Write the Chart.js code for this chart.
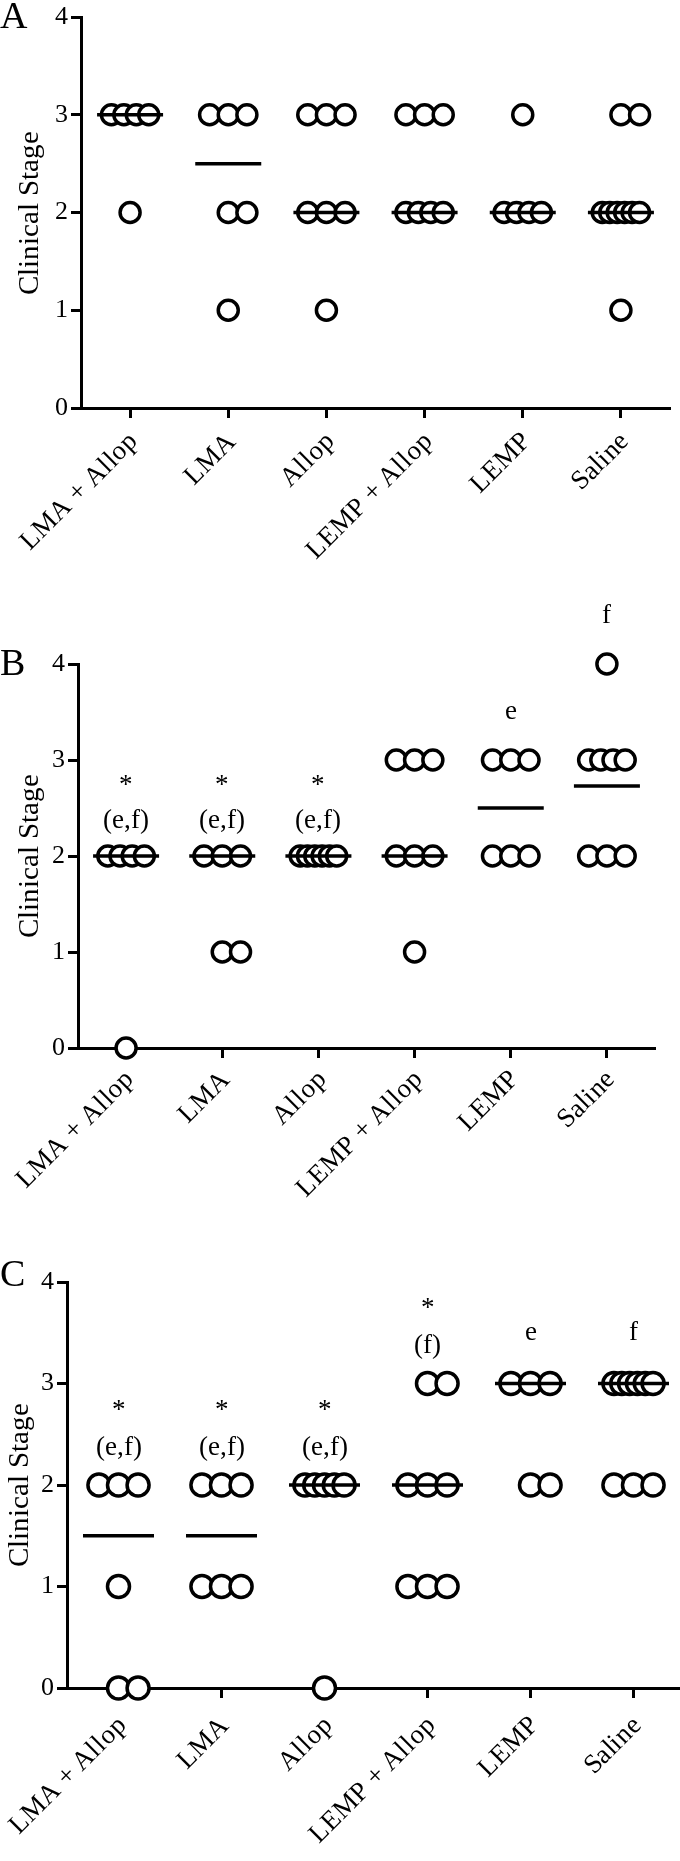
<!DOCTYPE html>
<html><head><meta charset="utf-8">
<script src="https://cdn.jsdelivr.net/npm/chart.js@4.4.0/dist/chart.umd.min.js"></script>
<style>
@font-face{font-family:"RefSerif";src:local("Liberation Serif"),local("LiberationSerif"),local("LiberationSerif-Regular"),local("Times New Roman");}
html,body{margin:0;padding:0;background:#fff;width:680px;height:1861px;overflow:hidden;position:relative}
.panel{position:absolute;left:0}
.letter{position:absolute;left:0;font-family:RefSerif,"Liberation Serif","Times New Roman",serif;font-size:38px;line-height:38px;color:#000}
canvas{display:block}
</style></head><body>
<div class="panel" style="top:0"><canvas id="cA" width="680" height="600"></canvas></div>
<div class="panel" style="top:600px"><canvas id="cB" width="680" height="630"></canvas></div>
<div class="panel" style="top:1230px"><canvas id="cC" width="690" height="631"></canvas></div>
<div class="letter" style="top:-4px">A</div>
<div class="letter" style="top:643px">B</div>
<div class="letter" style="top:1254px">C</div>
<script>
const categories = ['LMA + Allop', 'LMA', 'Allop', 'LEMP + Allop', 'LEMP', 'Saline'];
const yTicks = [0, 1, 2, 3, 4];
const yTitle = 'Clinical Stage';

// Panel A: clinical stage of each animal per group
const scoresA = [[3,3,3,3,2], [3,3,3,2,2,1], [3,3,3,2,2,2,1], [3,3,3,2,2,2,2], [3,2,2,2,2], [3,3,2,2,2,2,2,2,1]];
const lineA = [3, 2.5, 2, 2, 2, 2];
const notesA = [[], [], [], [], [], []];

// Panel B
const scoresB = [[2,2,2,2,0], [2,2,2,1,1], [2,2,2,2,2,2], [3,3,3,2,2,2,1], [3,3,3,2,2,2], [4,3,3,3,3,2,2,2]];
const lineB = [2, 2, 2, 2, 2.5, 2.73];
const notesB = [['*','(e,f)'], ['*','(e,f)'], ['*','(e,f)'], [], ['e'], ['f']];

// Panel C
const scoresC = [[2,2,2,1,0,0], [2,2,2,1,1,1], [2,2,2,2,2,0], [3,3,2,2,2,1,1,1], [3,3,3,2,2], [3,3,3,3,3,3,2,2,2]];
const lineC = [1.5, 1.5, 2, 2, 3, 3];
const notesC = [['*','(e,f)'], ['*','(e,f)'], ['*','(e,f)'], ['*','(f)'], ['e'], ['f']];

const FONT = 'RefSerif, "Liberation Serif", "Times New Roman", serif';

// spread identical values side by side within a category column
function swarm(scores, spread) {
  const pts = [];
  scores.forEach((vals, i) => {
    const counts = new Map();
    vals.forEach(v => counts.set(v, (counts.get(v) || 0) + 1));
    counts.forEach((n, v) => {
      for (let j = 0; j < n; j++) {
        let off;
        if (n === 1) off = 0;
        else if (n === 2) off = j * spread;
        else off = -spread + 2 * spread * j / (n - 1);
        pts.push({x: i + off, y: v});
      }
    });
  });
  return pts;
}

function notesPlugin(notes, scores) {
  return {
    id: 'notes',
    afterDatasetsDraw(chart) {
      const {ctx, scales: {x, y}} = chart;
      ctx.save();
      ctx.font = '27px ' + FONT;
      ctx.textAlign = 'center';
      ctx.textBaseline = 'middle';
      ctx.fillStyle = '#000';
      notes.forEach((lines, i) => {
        if (!lines.length) return;
        const top = Math.max(...scores[i]);
        const n = lines.length;
        lines.forEach((t, k) => {
          const level = n > 1 ? (k === n - 1 ? top + 0.37 : top + 0.8) : top + 0.5;
          let yy = y.getPixelForValue(level);
          if (t === '*') yy += 7;
          ctx.fillText(t, x.getPixelForValue(i), yy);
        });
      });
      ctx.restore();
    }
  };
}

function makeChart(id, scores, line, notes, cfg) {
  const gridCfg = {display: true, drawOnChartArea: false, drawTicks: true, tickLength: 10, tickWidth: 3, tickColor: '#000'};
  const borderCfg = {display: true, color: '#000', width: 3};
  return new Chart(document.getElementById(id), {
    type: 'scatter',
    data: {
      datasets: [
        {
          data: swarm(scores, 0.19),
          pointStyle: 'circle',
          pointRadius: cfg.r,
          pointBorderWidth: 3.5,
          pointBorderColor: '#000',
          pointBackgroundColor: '#fff',
          showLine: false,
          clip: false,
          order: 1
        },
        {
          data: line.map((v, i) => ({x: i, y: v})),
          pointStyle: 'line',
          pointRadius: cfg.lineR,
          pointBorderWidth: 3.5,
          pointBorderColor: '#000',
          pointBackgroundColor: '#000',
          showLine: false,
          clip: false,
          order: 0
        }
      ]
    },
    options: {
      responsive: false,
      animation: false,
      events: [],
      layout: {autoPadding: false, padding: {top: cfg.top, right: cfg.right, left: 0, bottom: 0}},
      plugins: {legend: {display: false}, tooltip: {enabled: false}},
      scales: {
        x: {
          type: 'linear', min: -0.5, max: 5.5,
          afterBuildTicks: s => { s.ticks = categories.map((c, i) => ({value: i})); },
          afterFit: s => { s.height = cfg.xh; s.paddingLeft = 0; s.paddingRight = 0; },
          ticks: {font: {family: FONT, size: 27}, color: '#000', minRotation: 45, maxRotation: 45, autoSkip: false,
                  padding: cfg.xpad, labelOffset: 4, callback: v => categories[v]},
          grid: gridCfg,
          border: borderCfg
        },
        y: {
          type: 'linear', min: 0, max: 4,
          afterBuildTicks: s => { s.ticks = yTicks.map(v => ({value: v})); },
          afterFit: s => { s.width = cfg.yw; s.paddingTop = 0; s.paddingBottom = 0; },
          ticks: {font: {family: FONT, size: 26}, color: '#000', padding: 3},
          grid: gridCfg,
          border: borderCfg,
          title: {display: true, text: yTitle, font: {family: FONT, size: 29}, color: '#000', padding: {top: cfg.titlePad, bottom: 0}}
        }
      }
    },
    plugins: [notesPlugin(notes, scores)]
  });
}

function init() {
  makeChart('cA', scoresA, lineA, notesA, {top: 17, right: 10, xh: 192, yw: 81, titlePad: 13, r: 10, lineR: 33, xpad: 8});
  makeChart('cB', scoresB, lineB, notesB, {top: 64, right: 25, xh: 182, yw: 78, titlePad: 13, r: 10, lineR: 33, xpad: 6});
  makeChart('cC', scoresC, lineC, notesC, {top: 52, right: 5, xh: 173, yw: 67, titlePad: 3, r: 11, lineR: 35.5, xpad: 12});
}
let started = false;
function go() { if (!started) { started = true; init(); } }
if (document.fonts && document.fonts.load) {
  document.fonts.load('26px RefSerif').then(go, go);
  setTimeout(go, 1500);
} else { go(); }
</script>
</body></html>
